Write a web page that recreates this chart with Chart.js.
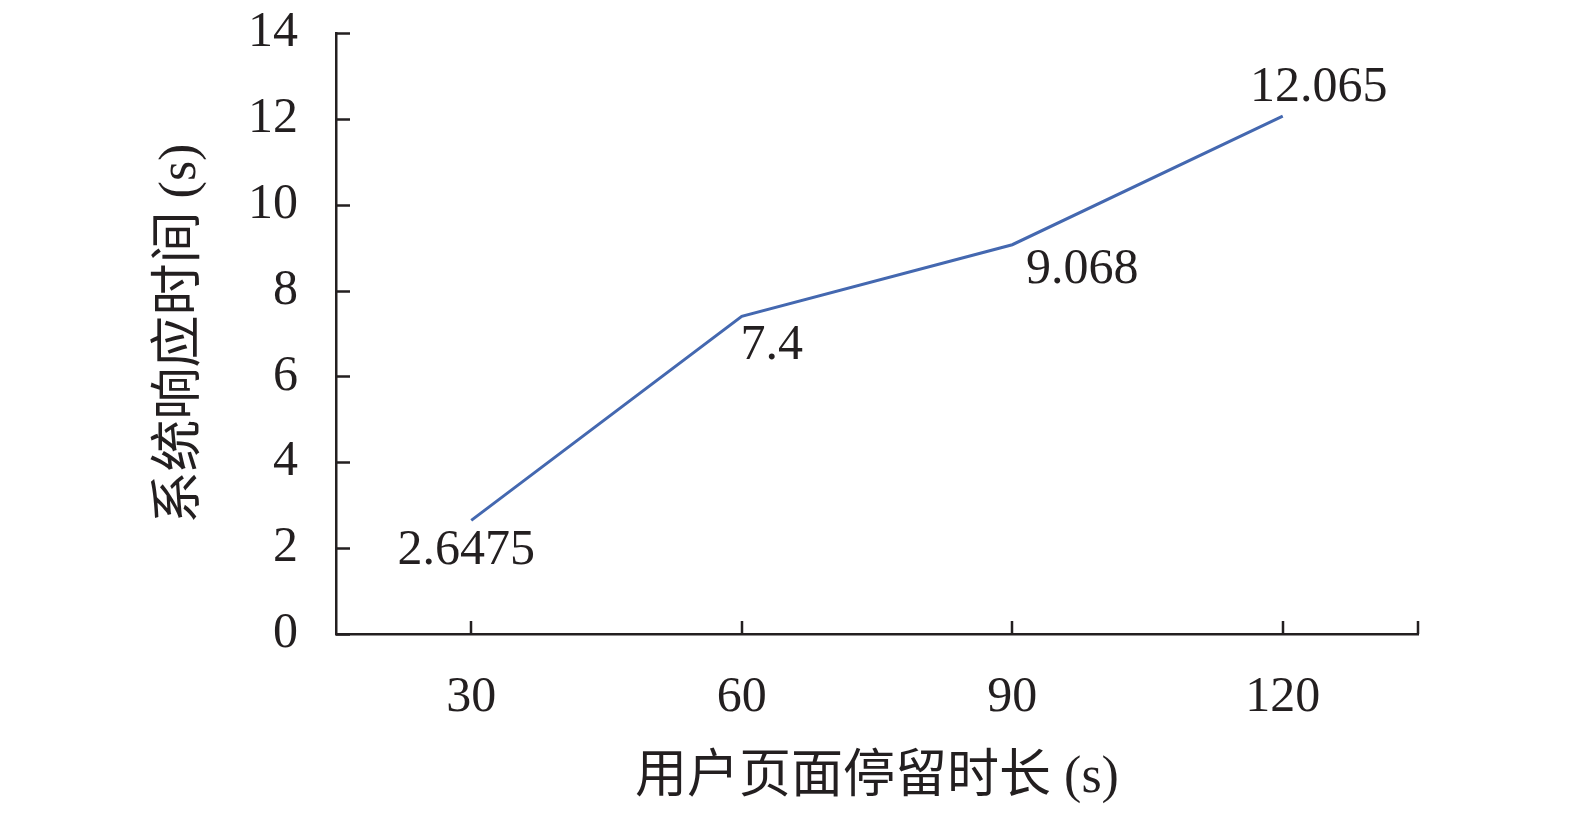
<!DOCTYPE html>
<html>
<head>
<meta charset="utf-8">
<script src="https://cdn.jsdelivr.net/npm/chart.js@4.4.0/dist/chart.umd.min.js"></script>
<style>
  html, body { margin: 0; padding: 0; background: #ffffff; }
  #wrap { width: 1575px; height: 817px; position: relative; }
</style>
</head>
<body>
<div id="wrap"><canvas id="c" width="1575" height="817"></canvas></div>
<script>
const categories = ['30', '60', '90', '120'];
const responseTimes = [2.6475, 7.4, 9.068, 12.065];
const valueLabels = ['2.6475', '7.4', '9.068', '12.065'];
const yTicks = [0, 2, 4, 6, 8, 10, 12, 14];
const xTitle = '用户页面停留时长 (s)';
const yTitle = '系统响应时间 (s)';

const FONT = "'Liberation Serif', 'Times New Roman', 'Noto Sans CJK SC', serif";
const INK = '#231f20';
const LINE = '#4468b0';

// label offsets relative to the data point (style only)
const labelOffsets = [[-5, 31], [30, 30], [70, 25], [36, -28]];

const inwardTicks = {
  id: 'inwardTicks',
  afterDraw(chart) {
    const {ctx, chartArea, scales} = chart;
    const x = scales.x, y = scales.y;
    ctx.save();
    ctx.strokeStyle = INK;
    ctx.lineWidth = 2.5;
    ctx.beginPath();
    yTicks.forEach(v => {
      const py = Math.round(y.getPixelForValue(v)) + 0.5;
      ctx.moveTo(chartArea.left, py);
      ctx.lineTo(chartArea.left + 14, py);
    });
    const xs = categories.map((c, i) => x.getPixelForValue(i));
    xs.push(chartArea.right);
    xs.forEach(px => {
      const rx = Math.round(px);
      ctx.moveTo(rx, chartArea.bottom);
      ctx.lineTo(rx, chartArea.bottom - 13);
    });
    ctx.stroke();

    // data value labels
    const meta = chart.getDatasetMeta(0);
    ctx.fillStyle = INK;
    ctx.font = '50px ' + FONT;
    ctx.textAlign = 'center';
    ctx.textBaseline = 'middle';
    meta.data.forEach((pt, i) => {
      const [dx, dy] = labelOffsets[i];
      ctx.fillText(valueLabels[i], pt.x + dx, pt.y + dy);
    });
    ctx.restore();
  }
};

new Chart(document.getElementById('c'), {
  type: 'line',
  data: {
    labels: categories,
    datasets: [{
      data: responseTimes,
      borderColor: LINE,
      borderWidth: 3,
      pointRadius: 0,
      tension: 0,
      fill: false
    }]
  },
  options: {
    responsive: false,
    animation: false,
    devicePixelRatio: 1,
    layout: { padding: { top: 33, right: 157, left: 0, bottom: 0 } },
    plugins: { legend: { display: false }, tooltip: { enabled: false } },
    scales: {
      x: {
        type: 'category',
        offset: true,
        grid: { display: false, drawTicks: false },
        border: { display: true, color: INK, width: 2.5 },
        ticks: { color: INK, font: { family: FONT, size: 50 }, padding: 34, maxRotation: 0 },
        title: { display: true, text: xTitle, color: INK, font: { family: FONT, size: 52 }, padding: { top: 0, bottom: 7 } },
        afterFit(scale) { scale.height = 183; scale.paddingLeft = 0; scale.paddingRight = 0; }
      },
      y: {
        min: 0, max: 14,
        grid: { display: false, drawTicks: false },
        border: { display: true, color: INK, width: 2.5 },
        afterBuildTicks(scale) { scale.ticks = yTicks.map(v => ({ value: v })); },
        ticks: { color: INK, font: { family: FONT, size: 50 }, padding: 38 },
        title: { display: true, text: yTitle, color: INK, font: { family: FONT, size: 52 }, padding: { top: 150, bottom: 0 } },
        afterFit(scale) { scale.width = 336; scale.paddingTop = 0; scale.paddingBottom = 0; }
      }
    }
  },
  plugins: [inwardTicks]
});
</script>
</body>
</html>
